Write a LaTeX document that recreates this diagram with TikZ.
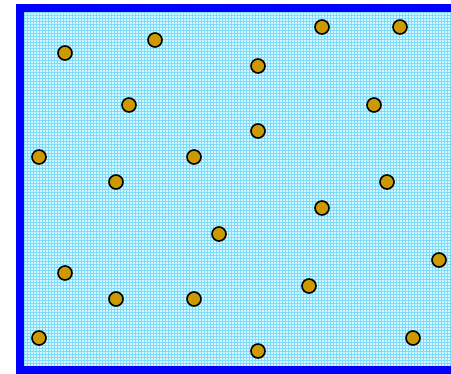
\documentclass[tikz,border=0pt]{standalone}
\definecolor{bgcyan}{RGB}{215,246,255}
\definecolor{gridcyan}{RGB}{125,220,250}
\definecolor{frameblue}{RGB}{0,0,255}
\definecolor{dot}{RGB}{204,153,0}
\tikzset{
  dotnode/.style={circle,draw=black,line width=1.6pt,fill=dot,minimum size=14pt,inner sep=0pt},
  frame/.style={draw=frameblue,line width=8pt}
}
\begin{document}
\begin{tikzpicture}[x=1pt,y=-1pt]
\useasboundingbox (0,0) rectangle (451,374);
\clip (0,0) rectangle (451,374);
\fill[bgcyan] (20,8) rectangle (460,370);
\draw[gridcyan,line width=0.5pt,step=3pt] (24,12) grid (451,366);
\draw[frame] (20,8) rectangle (470,370);
\foreach \n/\x/\y in {1/65/53,2/155/40,3/322/27,4/400/27,5/258/66,6/129/105,7/374/105,8/258/131,9/39/157,10/194/157,11/116/182,12/387/182,13/322/208,14/219/234,15/439/260,16/65/273,17/309/286,18/116/299,19/194/299,20/39/338,21/413/338,22/258/351}
  \node[dotnode] (c\n) at (\x,\y) {};
\end{tikzpicture}
\end{document}
